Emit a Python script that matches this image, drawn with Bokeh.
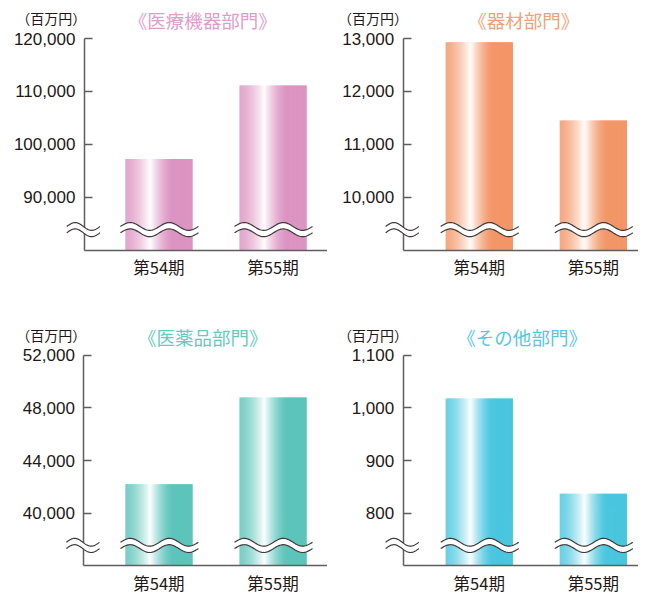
import numpy as np
from bokeh.plotting import figure
from bokeh.layouts import gridplot
from bokeh.models import Range1d, LinearAxis, FixedTicker, NumeralTickFormatter, Label
from bokeh.embed import file_html
from bokeh.resources import INLINE

# ---------------- data ----------------
periods = ["第54期", "第55期"]
unit_label = "（百万円）"

title_medical = "《医療機器部門》"
title_materials = "《器材部門》"
title_pharma = "《医薬品部門》"
title_others = "《その他部門》"

medical_devices = [97200, 111100]
materials = [12930, 11450]
pharma = [42200, 48800]
others = [1018, 837]

ticks_medical = [90000, 100000, 110000, 120000]
ticks_materials = [10000, 11000, 12000, 13000]
ticks_pharma = [40000, 44000, 48000, 52000]
ticks_others = [800, 900, 1000, 1100]

# ---------------- styles ----------------
bar_colors = ["#dc94c2", "#f39668", "#5dc4bb", "#4ac6df"]
title_colors = ["#e29ccb", "#f49f78", "#66cac1", "#55c6e4"]
TEXT = "#231815"
AXIS = "#5f5d5d"
WAVE = "#3e3a39"
NUM_FONT = "Liberation Sans"
JP_FONT = "Noto Sans CJK JP"

S = 0.975  # overall scale so the page fits the window


def hex_rgb(h):
    h = h.lstrip("#")
    return tuple(int(h[i:i + 2], 16) for i in (0, 2, 4))


def mix_white(h, w):
    r, g, b = hex_rgb(h)
    return "#%02x%02x%02x" % tuple(int(round(c + (255 - c) * w)) for c in (r, g, b))


def white_profile(t):
    if t < 0.37:
        return 0.18 + 0.80 * (t / 0.37) ** 1.6
    if t < 0.71:
        return 0.98 * (1 - (t - 0.37) / 0.34) ** 1.6
    return 0.0


def panel(values, ticks, title, tcolor, bcolor, W, H, ox, oy, g):
    def lx(v):
        return v * S - ox

    def ly(v):
        return v * S - oy

    top_px, base_px = ly(g["top"]), ly(g["base"])
    c0, ax_px = lx(g["c0"]), lx(g["axis"])
    ppu = 117.0 * S

    ymax = ticks[-1]
    step = ticks[1] - ticks[0]
    ymin = ticks[0] - step
    vpp = (ymax - ymin) / (base_px - top_px)

    def X(px):
        return (px - c0) / ppu

    def Y(py):
        return ymax + (top_px - py) * vpp

    p = figure(width=W, height=H, x_range=Range1d(X(0), X(W)),
               y_range=Range1d(Y(H), Y(0)), output_backend="svg",
               toolbar_location=None, x_axis_type=None, y_axis_type=None,
               min_border=0, outline_line_color=None, title=None)
    p.min_border_left = p.min_border_right = 0
    p.min_border_top = p.min_border_bottom = 0
    p.background_fill_color = "white"
    p.border_fill_color = "white"

    xs = list(range(len(periods)))
    bw = 69.0 * S / ppu

    # bars drawn as vertical gradient strips (highlight left of centre)
    n = 60
    dt = 1.0 / n
    L, R, T, B, C = [], [], [], [], []
    for i, v in zip(xs, values):
        left0 = i - bw / 2
        for k in range(n):
            t0 = k * dt
            L.append(left0 + t0 * bw)
            R.append(left0 + (t0 + dt * (1.8 if k < n - 1 else 1.0)) * bw)
            T.append(v)
            B.append(ymin)
            C.append(mix_white(bcolor, white_profile(t0 + dt / 2)))
    p.quad(left=L, right=R, top=T, bottom=B, fill_color=C, line_color=None)

    yax = LinearAxis(fixed_location=X(ax_px), bounds=(ymin, ymax),
                     ticker=FixedTicker(ticks=ticks),
                     formatter=NumeralTickFormatter(format="0,0"),
                     major_tick_in=8, major_tick_out=0,
                     minor_tick_in=0, minor_tick_out=0,
                     axis_line_color=AXIS, axis_line_width=1.5,
                     major_tick_line_color=AXIS, major_tick_line_width=1.5,
                     major_label_text_font=NUM_FONT,
                     major_label_text_font_size="17px",
                     major_label_text_color=TEXT,
                     major_label_standoff=9)
    p.add_layout(yax, "left")

    xax = LinearAxis(fixed_location=ymin, bounds=(X(ax_px), X(W)),
                     ticker=FixedTicker(ticks=xs),
                     major_label_overrides={i: periods[i] for i in xs},
                     major_tick_in=0, major_tick_out=0,
                     minor_tick_in=0, minor_tick_out=0,
                     axis_line_color=AXIS, axis_line_width=1.5,
                     major_label_text_font=JP_FONT,
                     major_label_text_font_size="16.5px",
                     major_label_text_color=TEXT,
                     major_label_standoff=5)
    p.add_layout(xax, "below")

    yc = Y(base_px - 21 * S)
    amp = 4.0 * S * vpp
    gap = 6.5 * S * vpp / 2

    def wave(x_start, x_end, cycles):
        xx = np.linspace(x_start, x_end, 80)
        ph = 2 * np.pi * cycles * (xx - x_start) / (x_end - x_start)
        s = amp * np.sin(ph)
        up = yc + gap + s
        lo = yc - gap + s
        p.patch(np.concatenate([xx, xx[::-1]]), np.concatenate([up, lo[::-1]]),
                fill_color="white", line_color=None, level="annotation")
        p.line(xx, up, line_color=WAVE, line_width=1.2, level="annotation")
        p.line(xx, lo, line_color=WAVE, line_width=1.2, level="annotation")

    wave(X(ax_px - 18 * S), X(ax_px + 16 * S), 1)
    for i in xs:
        wave(i - bw / 2 - 5 * S / ppu, i + bw / 2 + 6 * S / ppu, 2)

    p.add_layout(Label(x=X(lx(g["title"][0])), y=Y(ly(g["title"][1])), text=title,
                       text_align="center", text_baseline="middle",
                       text_font=JP_FONT, text_font_size="18.5px",
                       text_color=tcolor))
    p.add_layout(Label(x=X(lx(g["unit"][0])), y=Y(ly(g["unit"][1])), text=unit_label,
                       text_align="center", text_baseline="middle",
                       text_font=JP_FONT, text_font_size="14px",
                       text_color=TEXT))
    return p


WL, WR = 327, 311
HT, HB = 312, 283
OX_R = 327
OY_B = 316

g1 = dict(axis=86, c0=162.5, top=39, base=256, title=(207.5, 20), unit=(52, 18))
g2 = dict(axis=413, c0=491, top=39, base=256, title=(536.7, 20), unit=(382, 18))
g3 = dict(axis=85.5, c0=162.5, top=368, base=584, title=(207.5, 349), unit=(52, 347))
g4 = dict(axis=413, c0=491, top=368, base=584, title=(535, 349), unit=(382, 347))

p1 = panel(medical_devices, ticks_medical, title_medical, title_colors[0], bar_colors[0],
           WL, HT, 0, 0, g1)
p2 = panel(materials, ticks_materials, title_materials, title_colors[1], bar_colors[1],
           WR, HT, OX_R, 0, g2)
p3 = panel(pharma, ticks_pharma, title_pharma, title_colors[2], bar_colors[2],
           WL, HB, 0, OY_B, g3)
p4 = panel(others, ticks_others, title_others, title_colors[3], bar_colors[3],
           WR, HB, OX_R, OY_B, g4)

grid = gridplot([[p1, p2], [p3, p4]], toolbar_location=None)

open("out.html", "w").write(file_html(grid, INLINE))
